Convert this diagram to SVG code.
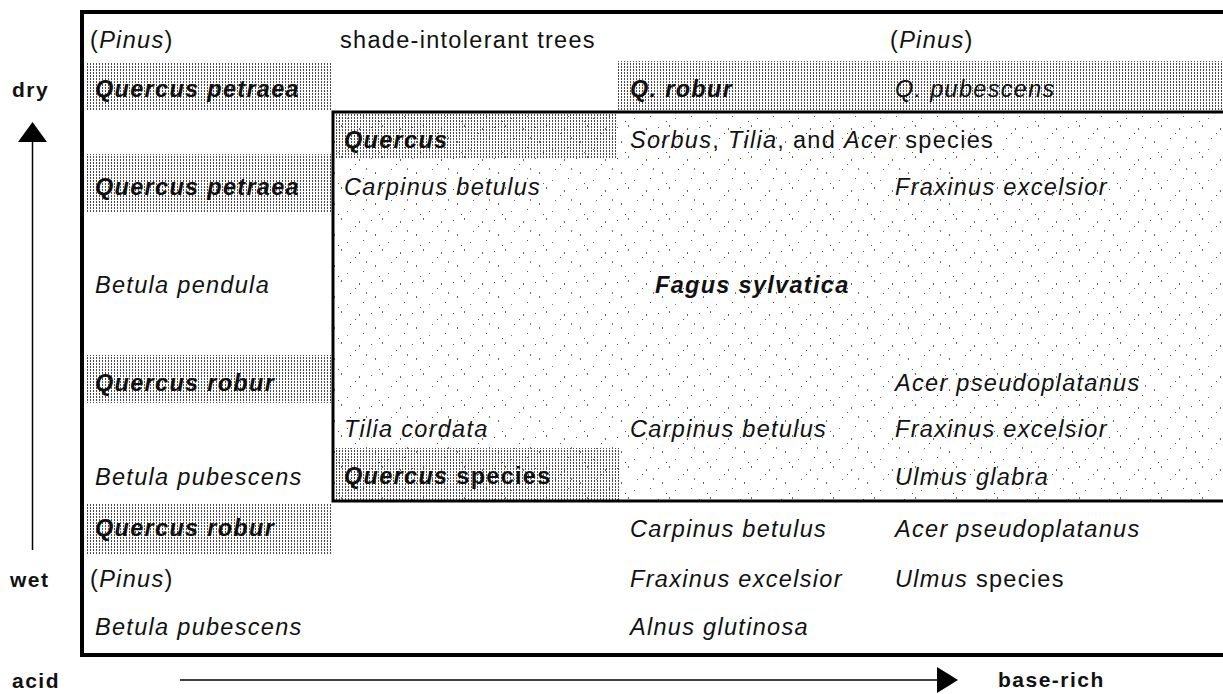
<svg xmlns="http://www.w3.org/2000/svg" width="1223" height="694" viewBox="0 0 1223 694">
<style>
text{font-family:"Liberation Sans",Arial,sans-serif;font-size:23.5px;letter-spacing:1.3px;fill:#111}
.i{font-style:italic}
.b{font-weight:bold}
.bi{font-weight:bold;font-style:italic}
.ax{font-weight:bold;font-size:21px;letter-spacing:1.5px}
.frame{fill:none;stroke:#000}
</style>
<defs>
<pattern id="dense" width="3" height="3" patternUnits="userSpaceOnUse"><rect width="1" height="2" fill="#4a4a4a"/></pattern>
<pattern id="sparse" width="41" height="31" patternUnits="userSpaceOnUse">
<rect x="2" y="3" width="1" height="1" fill="#555"/><rect x="13" y="1" width="1" height="2" fill="#666"/><rect x="27" y="9" width="1" height="1" fill="#555"/><rect x="6" y="17" width="1" height="2" fill="#666"/><rect x="35" y="23" width="1" height="1" fill="#555"/><rect x="19" y="25" width="1" height="1" fill="#777"/><rect x="31" y="4" width="1" height="2" fill="#666"/><rect x="10" y="28" width="1" height="1" fill="#555"/><rect x="22" y="14" width="1" height="1" fill="#666"/><rect x="38" y="13" width="1" height="2" fill="#777"/>
</pattern>
</defs>
<rect width="1223" height="694" fill="#fff"/>
<g id="zones">
<rect id="fagus-zone" x="334" y="113" width="889" height="389" fill="url(#sparse)"/>
<rect x="85" y="62" width="246" height="48" fill="url(#dense)"/>
<rect x="617" y="61" width="606" height="49" fill="url(#dense)"/>
<rect x="336" y="114" width="281" height="45" fill="url(#dense)"/>
<rect x="85" y="154" width="246" height="58" fill="url(#dense)"/>
<rect x="85" y="355" width="247" height="48" fill="url(#dense)"/>
<rect x="336" y="448" width="284" height="53" fill="url(#dense)"/>
<rect x="85" y="503" width="246" height="52" fill="url(#dense)"/>
</g>
<g id="frames">
<path class="frame" d="M1223 12 H82 V655 H1223" stroke-width="4"/>
<path class="frame" d="M1223 112 H333 V501 H1223" stroke-width="3"/>
</g>
<g id="connectors">
<line x1="32.5" y1="140" x2="32.5" y2="550" stroke="#000" stroke-width="1.5"/>
<polygon points="32.5,122 18,142 47,142" fill="#000"/>
<line x1="180" y1="680" x2="940" y2="680" stroke="#000" stroke-width="1.5"/>
<polygon points="958,680 937,667 937,693" fill="#000"/>
</g>
<g id="axis-labels">
<text class="ax" x="12" y="97">dry</text>
<text class="ax" x="10" y="587">wet</text>
<text class="ax" x="12" y="688">acid</text>
<text class="ax" x="998" y="687">base-rich</text>
</g>
<g id="left-column">
<text x="90" y="48">(<tspan class="i">Pinus</tspan>)</text>
<text class="bi" x="95" y="97">Quercus petraea</text>
<text class="bi" x="95" y="195">Quercus petraea</text>
<text class="i" x="95" y="293">Betula pendula</text>
<text class="bi" x="95" y="391">Quercus robur</text>
<text class="i" x="95" y="485">Betula pubescens</text>
<text class="bi" x="95" y="536">Quercus robur</text>
<text x="90" y="587">(<tspan class="i">Pinus</tspan>)</text>
<text class="i" x="95" y="635">Betula pubescens</text>
</g>
<g id="middle-column">
<text x="340" y="48">shade-intolerant trees</text>
<text class="bi" x="344" y="148">Quercus</text>
<text class="i" x="344" y="195">Carpinus betulus</text>
<text class="i" x="344" y="437">Tilia cordata</text>
<text x="344" y="484"><tspan class="bi">Quercus</tspan><tspan class="b"> species</tspan></text>
</g>
<g id="centre-column">
<text class="bi" x="630" y="97">Q. robur</text>
<text x="630" y="148"><tspan class="i">Sorbus</tspan>, <tspan class="i">Tilia</tspan>, and <tspan class="i">Acer</tspan> species</text>
<text class="bi" x="655" y="293">Fagus sylvatica</text>
<text class="i" x="630" y="437">Carpinus betulus</text>
<text class="i" x="630" y="537">Carpinus betulus</text>
<text class="i" x="630" y="587">Fraxinus excelsior</text>
<text class="i" x="630" y="635">Alnus glutinosa</text>
</g>
<g id="right-column">
<text x="890" y="48">(<tspan class="i">Pinus</tspan>)</text>
<text class="i" x="895" y="97">Q. pubescens</text>
<text class="i" x="895" y="195">Fraxinus excelsior</text>
<text class="i" x="895" y="391">Acer pseudoplatanus</text>
<text class="i" x="895" y="437">Fraxinus excelsior</text>
<text class="i" x="895" y="485">Ulmus glabra</text>
<text class="i" x="895" y="537">Acer pseudoplatanus</text>
<text x="895" y="587"><tspan class="i">Ulmus</tspan> species</text>
</g>
</svg>
